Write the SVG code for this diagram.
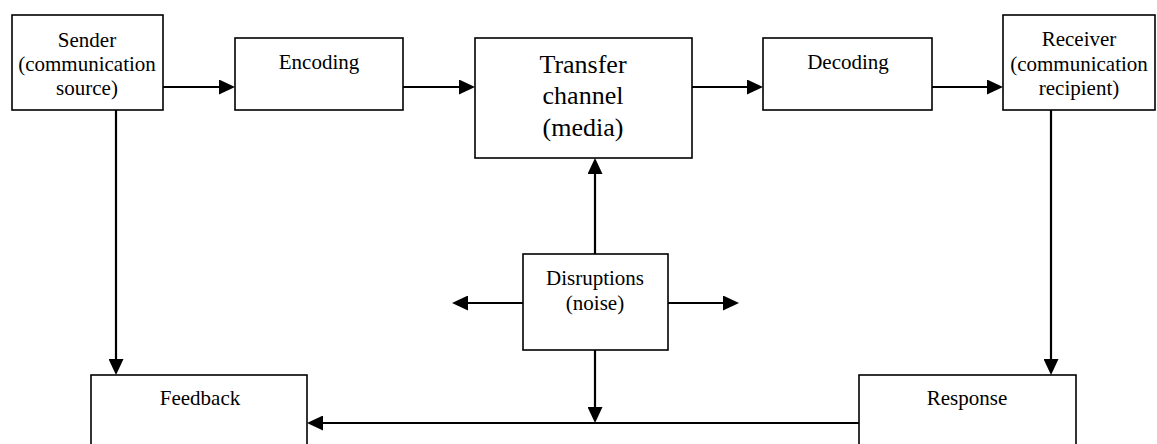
<svg xmlns="http://www.w3.org/2000/svg" width="1157" height="444" viewBox="0 0 1157 444">
  <style>
    .box { fill: #ffffff; stroke: #000000; stroke-width: 1.6; }
    .lbl { font-family: "Liberation Serif", "Times New Roman", serif; font-size: 21px; fill: #000000; text-anchor: middle; }
    .big { font-size: 26px; }
    .con { fill: none; stroke: #000000; stroke-width: 2.2; }
  </style>
  <defs>
    <marker id="arr" markerUnits="userSpaceOnUse" markerWidth="16" markerHeight="15" refX="0" refY="7.5" orient="auto" viewBox="0 0 16 15">
      <path d="M0,0 L16,7.5 L0,15 Z" fill="#000000"/>
    </marker>
  </defs>
  <rect width="1157" height="444" fill="#ffffff"/>

  <g id="connectors">
    <path class="con" d="M163,87 H219" marker-end="url(#arr)"/>
    <path class="con" d="M403,87 H459" marker-end="url(#arr)"/>
    <path class="con" d="M692,87 H747" marker-end="url(#arr)"/>
    <path class="con" d="M932,87 H987" marker-end="url(#arr)"/>
    <path class="con" d="M116,110 V359" marker-end="url(#arr)"/>
    <path class="con" d="M1051,110 V359" marker-end="url(#arr)"/>
    <path class="con" d="M595,254 V174" marker-end="url(#arr)"/>
    <path class="con" d="M523,303 H468" marker-end="url(#arr)"/>
    <path class="con" d="M668,303 H723" marker-end="url(#arr)"/>
    <path class="con" d="M595,350 V407" marker-end="url(#arr)"/>
    <path class="con" d="M859,423 H323" marker-end="url(#arr)"/>
  </g>

  <g id="sender">
    <rect class="box" x="12" y="15" width="151" height="95"/>
    <text class="lbl" x="87" y="47">Sender</text>
    <text class="lbl" x="87" y="71">(communication</text>
    <text class="lbl" x="87" y="95">source)</text>
  </g>
  <g id="encoding">
    <rect class="box" x="235" y="38" width="168" height="72"/>
    <text class="lbl" x="319" y="69">Encoding</text>
  </g>
  <g id="transfer">
    <rect class="box" x="475" y="38" width="217" height="120"/>
    <text class="lbl big" x="583" y="73">Transfer</text>
    <text class="lbl big" x="583" y="104">channel</text>
    <text class="lbl big" x="583" y="136">(media)</text>
  </g>
  <g id="decoding">
    <rect class="box" x="763" y="38" width="169" height="72"/>
    <text class="lbl" x="848" y="69">Decoding</text>
  </g>
  <g id="receiver">
    <rect class="box" x="1003" y="15" width="152" height="95"/>
    <text class="lbl" x="1079" y="46">Receiver</text>
    <text class="lbl" x="1079" y="71">(communication</text>
    <text class="lbl" x="1079" y="95">recipient)</text>
  </g>
  <g id="disruptions">
    <rect class="box" x="523" y="254" width="145" height="96"/>
    <text class="lbl" x="595" y="285">Disruptions</text>
    <text class="lbl" x="595" y="310">(noise)</text>
  </g>
  <g id="feedback">
    <rect class="box" x="91" y="375" width="216" height="80"/>
    <text class="lbl" x="200" y="405">Feedback</text>
  </g>
  <g id="response">
    <rect class="box" x="859" y="375" width="217" height="80"/>
    <text class="lbl" x="967" y="405">Response</text>
  </g>
</svg>
